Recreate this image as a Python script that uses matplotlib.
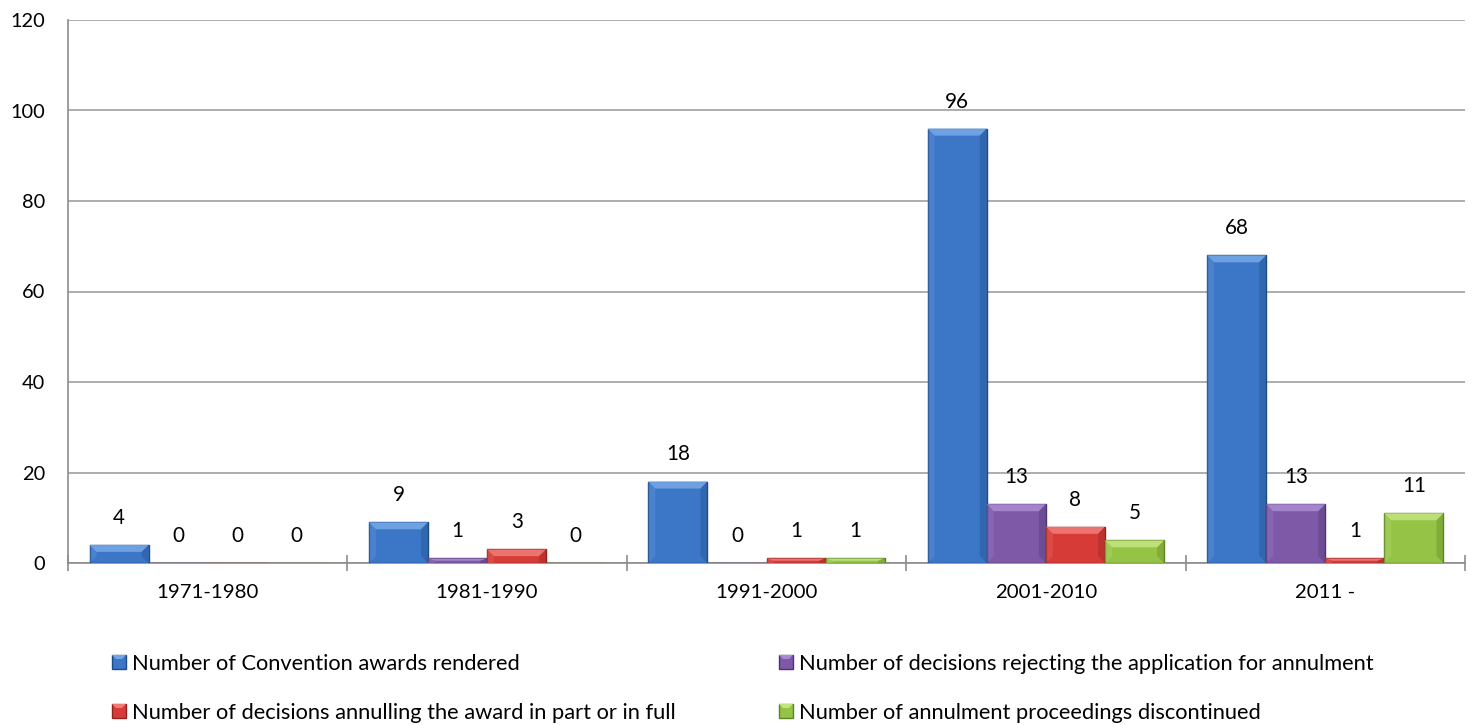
import matplotlib
matplotlib.use("Agg")
import matplotlib.pyplot as plt
import numpy as np
from matplotlib.patches import Polygon, Rectangle

FONT = ['Lato', 'DejaVu Sans']
plt.rcParams['font.family'] = FONT

categories = ["1971-1980", "1981-1990", "1991-2000", "2001-2010", "2011 -"]
series_names = [
    "Number of Convention awards rendered",
    "Number of decisions rejecting the application for annulment",
    "Number of decisions annulling the award in part or in full",
    "Number of annulment proceedings discontinued",
]
awards = [4, 9, 18, 96, 68]
rejecting = [0, 1, 0, 13, 13]
annulling = [0, 3, 1, 8, 1]
discontinued = [0, 0, 1, 5, 11]
y_ticks = [0, 20, 40, 60, 80, 100, 120]

series = [awards, rejecting, annulling, discontinued]
face = ["#3C76C6", "#7D59A8", "#D63B38", "#94C346"]
edge = ["#1F4B85", "#4E3570", "#8E2321", "#5E8326"]
light = ["#74A6E6", "#A98AD2", "#F07A76", "#C2E37E"]

W, H = 1476, 725
fig = plt.figure(figsize=(W / 100, H / 100), dpi=100)
renderer = fig.canvas.get_renderer()

def fit_size(text, target_px):
    t = fig.text(0, 0, text, fontsize=10)
    w = t.get_window_extent(renderer).width
    t.remove()
    return 10 * target_px / w

fs_legend = fit_size(series_names[0], 391)
fs_cat = fit_size(categories[0], 102)
fs_val = fit_size("96", 24)
fs_y = fit_size("120", 35)

ax = fig.add_axes([68 / W, 1 - 563 / H, (1465 - 68) / W, (563 - 20) / H])

x = np.arange(len(categories))
bw = 0.2115
offsets = (np.arange(4) - 1.5) * bw

ax.set_xlim(-0.5, len(categories) - 0.5)
ax.set_ylim(0, 120)

def px_to_dy(p):
    return p * 120 / (563 - 20)

def px_to_dx(p):
    return p * len(categories) / (1465 - 68)

for i, (vals, fc, ec, lc) in enumerate(zip(series, face, edge, light)):
    bars = ax.bar(x + offsets[i], vals, bw, color=fc, edgecolor=ec, linewidth=1.0,
                  label=series_names[i], zorder=3)
    for b, v in zip(bars, vals):
        if v > 0:
            x0, x1 = b.get_x(), b.get_x() + b.get_width()
            h = b.get_height()
            bdy = min(px_to_dy(7), h / 2)
            bdx = px_to_dx(7)
            low = bdy if h > 2 * bdy else 0
            ax.add_patch(Polygon([(x0, h), (x1, h), (x1 - bdx, h - bdy), (x0 + bdx, h - bdy)],
                                 closed=True, facecolor=lc, edgecolor='none', zorder=4, alpha=0.9))
            ax.add_patch(Polygon([(x1, h), (x1, 0), (x1 - bdx, low), (x1 - bdx, h - bdy)],
                                 closed=True, facecolor=ec, edgecolor='none', zorder=4, alpha=0.35))
            ax.add_patch(Polygon([(x0, h), (x0, 0), (x0 + bdx, low), (x0 + bdx, h - bdy)],
                                 closed=True, facecolor=lc, edgecolor='none', zorder=4, alpha=0.25))
        ax.annotate(str(v), (b.get_x() + b.get_width() / 2, v), xytext=(0, 19.5),
                    textcoords='offset points', ha='center', va='center', fontsize=fs_val,
                    color='#000000', zorder=5)

ax.set_yticks(y_ticks)
ax.yaxis.grid(True, color='#A0A0A0', linewidth=1.2, zorder=0)
ax.set_axisbelow(True)
ax.tick_params(axis='y', length=0, labelsize=fs_y, pad=16.5)

ax.set_xticks(np.arange(-0.5, len(categories), 1.0))
ax.set_xticklabels([])
ax.set_xticks(x, minor=True)
ax.set_xticklabels(categories, minor=True, fontsize=fs_cat)
for lab in ax.get_xticklabels(minor=True):
    lab.set_verticalalignment('center')
ax.tick_params(axis='x', which='major', direction='inout', length=11, color='#8C8C8C', width=1.2)
ax.tick_params(axis='x', which='minor', length=0, pad=21.5)

for s in ['top', 'right']:
    ax.spines[s].set_visible(False)
for s in ['left', 'bottom']:
    ax.spines[s].set_color('#8C8C8C')
    ax.spines[s].set_linewidth(1.2)

# legend (2 x 2 grid, row-major order as in the original)
legend_cols = [112, 779]
legend_rows = [662, 711]
for k in range(4):
    r, c = divmod(k, 2)
    lx, ly = legend_cols[c], legend_rows[r]
    fig.add_artist(Rectangle((lx / W, 1 - (ly + 7) / H), 14 / W, 14 / H,
                             transform=fig.transFigure, facecolor=face[k],
                             edgecolor=edge[k], linewidth=1.0))
    fig.add_artist(Polygon([(lx / W, 1 - (ly - 7) / H), ((lx + 14) / W, 1 - (ly - 7) / H),
                            ((lx + 10) / W, 1 - (ly - 3) / H), ((lx + 4) / W, 1 - (ly - 3) / H)],
                           closed=True, transform=fig.transFigure, facecolor=light[k],
                           edgecolor='none'))
    fig.text((lx + 20) / W, 1 - ly / H, series_names[k], fontsize=fs_legend,
             ha='left', va='center_baseline', color='#000000')

fig.savefig("out.png", dpi=100)
